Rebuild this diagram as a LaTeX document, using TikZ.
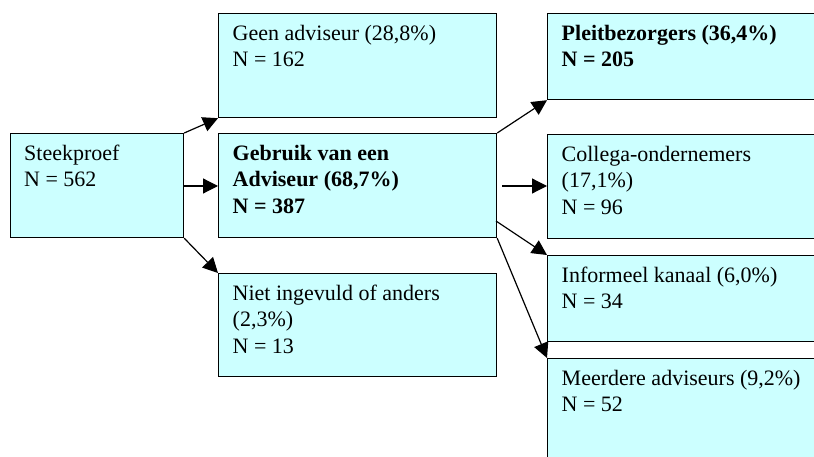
\documentclass[tikz,border=0pt]{standalone}
\usepackage{fontspec}
\setmainfont{Liberation Serif}
\usetikzlibrary{arrows.meta}
\definecolor{boxfill}{HTML}{CCFFFF}
\newcommand\myfl{\rule{0pt}{27pt}}
\begin{document}
\begin{tikzpicture}[x=1pt,y=-1pt,
  box/.style={draw=black, fill=boxfill, line width=1.2pt, rectangle, inner sep=0pt, anchor=north west},
  txt/.style={anchor=north west, inner sep=0pt, align=left, font=\fontsize{22}{26.5}\selectfont},
  arr/.style={draw=black, line width=1.2pt, -{Triangle[length=15pt,width=15pt]}}]
\useasboundingbox (0,0) rectangle (814,457);
\clip (0,0) rectangle (814,457);
% boxes
\node[box, minimum width=173pt, minimum height=104pt] (steek) at (10,133) {};
\node[box, minimum width=278pt, minimum height=104pt] (geen) at (218,13) {};
\node[box, minimum width=278pt, minimum height=104pt] (gebr) at (218,133) {};
\node[box, minimum width=278pt, minimum height=103pt] (niet) at (218,273) {};
\node[box, minimum width=290pt, minimum height=86pt] (pleit) at (547,13) {};
\node[box, minimum width=290pt, minimum height=104pt] (coll) at (547,134) {};
\node[box, minimum width=290pt, minimum height=86pt] (inf) at (547,255) {};
\node[box, minimum width=290pt, minimum height=120pt] (meer) at (547,358) {};
% texts
\node[txt] (steekt) at ([xshift=14pt]steek.north west) {\myfl Steekproef\\N = 562};
\node[txt] (geent) at ([xshift=14.5pt]geen.north west) {\myfl Geen adviseur (28,8\%)\\N = 162};
\node[txt] (gebrt) at ([xshift=14.5pt]gebr.north west) {\myfl\bfseries Gebruik van een\\\bfseries Adviseur (68,7\%)\\\bfseries N = 387};
\node[txt] (niett) at ([xshift=14.5pt]niet.north west) {\myfl Niet ingevuld of anders\\(2,3\%)\\N = 13};
\node[txt] (pleitt) at ([xshift=14.5pt]pleit.north west) {\myfl\bfseries Pleitbezorgers (36,4\%)\\\bfseries N = 205};
\node[txt] (collt) at ([xshift=14.5pt]coll.north west) {\myfl Collega-ondernemers\\(17,1\%)\\N = 96};
\node[txt] (inft) at ([xshift=14.5pt]inf.north west) {\myfl Informeel kanaal (6,0\%)\\N = 34};
\node[txt] (meert) at ([xshift=14.5pt]meer.north west) {\myfl Meerdere adviseurs (9,2\%)\\N = 52};
% connectors
\coordinate (s2) at (183,186);
\coordinate (g2) at (218,186);
\coordinate (c0) at (502,186);
\coordinate (c1) at (547,186);
\coordinate (g3) at (496,221);
\draw[arr] (steek.north east) -- (geen.south west);
\draw[arr] (s2) -- (g2);
\draw[arr] (steek.south east) -- (niet.north west);
\draw[arr] (gebr.north east) -- (pleit.south west);
\draw[arr] (c0) -- (c1);
\draw[arr] (g3) -- (inf.north west);
\draw[arr] (gebr.south east) -- (meer.north west);
\end{tikzpicture}
\end{document}
